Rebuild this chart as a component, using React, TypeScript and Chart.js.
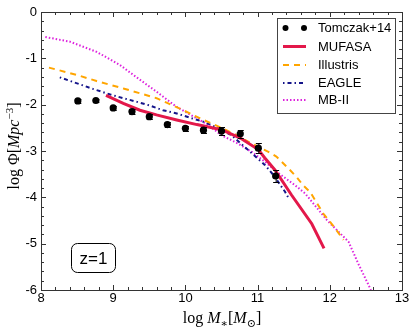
import React, { useEffect, useRef } from 'react';
import { Chart, registerables } from 'chart.js';
Chart.register(...registerables);

// ---- data ----
const tomczakX = [8.51, 8.76, 9.0, 9.26, 9.5, 9.75, 10.0, 10.25, 10.5, 10.76, 11.01, 11.25];
const tomczakY = [-1.92, -1.91, -2.07, -2.15, -2.26, -2.43, -2.51, -2.55, -2.57, -2.63, -2.94, -3.54];
const tomczakErr = [0.04, 0.04, 0.05, 0.05, 0.05, 0.06, 0.06, 0.07, 0.08, 0.08, 0.11, 0.13];

const mufasaX = [8.9, 9.14, 9.37, 9.6, 9.88, 10.16, 10.32, 10.5, 10.76, 11.01, 11.1, 11.24, 11.47, 11.75, 11.92];
const mufasaY = [-1.80, -1.97, -2.12, -2.22, -2.33, -2.43, -2.48, -2.54, -2.72, -2.97, -3.15, -3.41, -3.95, -4.57, -5.10];

const illustrisX = [8.11, 8.5, 8.77, 9.14, 9.6, 9.97, 10.25, 10.5, 10.7, 10.87, 11.15, 11.26, 11.43, 11.54, 11.63, 11.73, 11.91, 12.05, 12.19];
const illustrisY = [-1.20, -1.36, -1.49, -1.65, -1.86, -2.12, -2.33, -2.50, -2.65, -2.80, -3.02, -3.12, -3.38, -3.56, -3.74, -3.89, -4.35, -4.62, -4.92];

const eagleX = [8.26, 8.5, 8.72, 8.96, 9.14, 9.33, 9.51, 9.69, 9.88, 10.06, 10.25, 10.45, 10.64, 10.87, 11.1, 11.22, 11.38, 11.43];
const eagleY = [-1.41, -1.54, -1.66, -1.78, -1.86, -1.94, -2.02, -2.12, -2.19, -2.28, -2.37, -2.50, -2.66, -2.98, -3.30, -3.52, -3.88, -4.02];

const mb2X = [8.06, 8.4, 8.77, 9.09, 9.28, 9.6, 9.88, 10.16, 10.3, 10.5, 10.73, 10.92, 11.1, 11.29, 11.52, 11.66, 11.96, 12.26, 12.4, 12.57];
const mb2Y = [-0.54, -0.64, -0.86, -1.14, -1.36, -1.72, -2.05, -2.30, -2.42, -2.66, -2.84, -3.02, -3.23, -3.48, -3.74, -3.92, -4.49, -4.96, -5.45, -6.0];

const xTicks = [8, 9, 10, 11, 12, 13];
const yTicks = [0, -1, -2, -3, -4, -5, -6];
const legendLabels = ['Tomczak+14', 'MUFASA', 'Illustris', 'EAGLE', 'MB-II'];
const redshiftLabel = 'z=1';

const RED = '#e3184a';
const ORANGE = '#ffa500';
const NAVY = '#14148a';
const MAGENTA = '#dd22dd';

const SANS = '"Liberation Sans", Arial, sans-serif';
const SERIF = '"Liberation Serif", "DejaVu Serif", serif';

const pts = (xs: number[], ys: number[]) => xs.map((x, i) => ({ x, y: ys[i] }));

type Seg = { t: string; italic?: boolean; shift?: number; scale?: number };

function drawRich(ctx: CanvasRenderingContext2D, segs: Seg[], size: number, cx: number, baseY: number) {
  const fontOf = (s: Seg) => `${s.italic ? 'italic ' : ''}${Math.round(size * (s.scale || 1))}px ${SERIF}`;
  let w = 0;
  for (const s of segs) {
    ctx.font = fontOf(s);
    w += ctx.measureText(s.t).width;
  }
  let x = cx - w / 2;
  ctx.textAlign = 'left';
  ctx.textBaseline = 'alphabetic';
  for (const s of segs) {
    ctx.font = fontOf(s);
    ctx.fillText(s.t, x, baseY + (s.shift || 0) * size);
    x += ctx.measureText(s.t).width;
  }
}

const decorPlugin = {
  id: 'decor',
  afterDatasetsDraw(chart: any) {
    const ctx: CanvasRenderingContext2D = chart.ctx;
    const xs = chart.scales.x;
    const ys = chart.scales.y;
    const { left, right, top, bottom } = chart.chartArea;
    ctx.save();

    // error bars
    ctx.strokeStyle = '#000';
    ctx.lineWidth = 1;
    tomczakX.forEach((xv, i) => {
      const px = xs.getPixelForValue(xv);
      const y1 = ys.getPixelForValue(tomczakY[i] + tomczakErr[i]);
      const y2 = ys.getPixelForValue(tomczakY[i] - tomczakErr[i]);
      ctx.beginPath();
      ctx.moveTo(px + 0.5, y1);
      ctx.lineTo(px + 0.5, y2);
      ctx.moveTo(px - 2.5, Math.round(y1) + 0.5);
      ctx.lineTo(px + 3.5, Math.round(y1) + 0.5);
      ctx.moveTo(px - 2.5, Math.round(y2) + 0.5);
      ctx.lineTo(px + 3.5, Math.round(y2) + 0.5);
      ctx.stroke();
    });

    // frame
    ctx.strokeStyle = '#333';
    ctx.lineWidth = 1;
    ctx.strokeRect(Math.round(left) + 0.5, Math.round(top) + 0.5, Math.round(right - left), Math.round(bottom - top));

    // ticks (inward, all sides)
    ctx.beginPath();
    for (let v = 8; v <= 13.001; v += 0.2) {
      const major = Math.abs(v - Math.round(v)) < 1e-6;
      const len = major ? 5 : 3;
      const px = Math.round(xs.getPixelForValue(v)) + 0.5;
      ctx.moveTo(px, bottom);
      ctx.lineTo(px, bottom - len);
      ctx.moveTo(px, top);
      ctx.lineTo(px, top + len);
    }
    for (let v = -6; v <= 0.001; v += 0.2) {
      const major = Math.abs(v - Math.round(v)) < 1e-6;
      const len = major ? 5 : 3;
      const py = Math.round(ys.getPixelForValue(v)) + 0.5;
      ctx.moveTo(left, py);
      ctx.lineTo(left + len, py);
      ctx.moveTo(right, py);
      ctx.lineTo(right - len, py);
    }
    ctx.stroke();

    // legend
    const lx = 277.5, ly = 18.5, lw = 118, lh = 95;
    ctx.fillStyle = '#fff';
    ctx.fillRect(lx, ly, lw, lh);
    ctx.strokeStyle = '#444';
    ctx.lineWidth = 1;
    ctx.strokeRect(lx, ly, lw, lh);
    const rows = [28, 46.5, 65, 83, 100];
    const sx1 = 283, sx2 = 306;
    ctx.font = `13px ${SANS}`;
    ctx.fillStyle = '#000';
    ctx.textAlign = 'left';
    ctx.textBaseline = 'middle';
    legendLabels.forEach((lab, i) => {
      ctx.fillStyle = '#000';
      ctx.fillText(lab, 318, rows[i] + 0.5);
    });
    // samples
    ctx.fillStyle = '#000';
    [285.5, 304].forEach((cx) => {
      ctx.beginPath();
      ctx.arc(cx, rows[0], 3, 0, Math.PI * 2);
      ctx.fill();
    });
    const sample = (y: number, color: string, w: number, dash: number[]) => {
      ctx.beginPath();
      ctx.strokeStyle = color;
      ctx.lineWidth = w;
      ctx.setLineDash(dash);
      ctx.moveTo(sx1, y);
      ctx.lineTo(sx2, y);
      ctx.stroke();
      ctx.setLineDash([]);
    };
    sample(rows[1], RED, 3, []);
    sample(rows[2], ORANGE, 2, [6, 5]);
    sample(rows[3], NAVY, 2, [1.5, 3, 4, 3]);
    sample(rows[4], MAGENTA, 2, [1.5, 2]);

    // z=1 box
    ctx.strokeStyle = '#000';
    ctx.lineWidth = 1;
    ctx.beginPath();
    (ctx as any).roundRect(71.5, 243.5, 44, 29, 6);
    ctx.stroke();
    ctx.fillStyle = '#000';
    ctx.font = `17px ${SANS}`;
    ctx.textAlign = 'center';
    ctx.textBaseline = 'middle';
    ctx.fillText(redshiftLabel, 93.5, 259);

    // axis titles
    ctx.fillStyle = '#000';
    drawRich(ctx, [
      { t: 'log ' },
      { t: 'M', italic: true },
      { t: '∗', shift: 0.25, scale: 0.7 },
      { t: '[' },
      { t: 'M', italic: true },
      { t: '⊙', shift: 0.25, scale: 0.7 },
      { t: ']' },
    ], 16, 222, 323);

    ctx.save();
    ctx.translate(14, 146);
    ctx.rotate(-Math.PI / 2);
    drawRich(ctx, [
      { t: 'log Φ[' },
      { t: 'Mpc', italic: true },
      { t: '−3', shift: -0.4, scale: 0.7 },
      { t: ']' },
    ], 16, 0, 5);
    ctx.restore();

    ctx.restore();
  },
};

export default function App() {
  const ref = useRef<HTMLCanvasElement | null>(null);
  useEffect(() => {
    document.body.style.margin = '0';
    document.body.style.overflow = 'hidden';
    if (!ref.current) return;
    const tickFont = { family: SANS, size: 13 };
    const chart = new Chart(ref.current, {
      type: 'line',
      data: {
        datasets: [
          {
            label: legendLabels[0],
            data: pts(tomczakX, tomczakY),
            showLine: false,
            pointRadius: 3.6,
            pointBackgroundColor: '#000',
            pointBorderColor: '#000',
            pointBorderWidth: 0,
          },
          {
            label: legendLabels[1],
            data: pts(mufasaX, mufasaY),
            borderColor: RED,
            borderWidth: 3,
            pointRadius: 0,
            tension: 0,
          },
          {
            label: legendLabels[2],
            data: pts(illustrisX, illustrisY),
            borderColor: ORANGE,
            borderWidth: 2,
            borderDash: [6, 5],
            pointRadius: 0,
            tension: 0,
          },
          {
            label: legendLabels[3],
            data: pts(eagleX, eagleY),
            borderColor: NAVY,
            borderWidth: 2,
            borderDash: [1.5, 3, 4, 3],
            pointRadius: 0,
            tension: 0,
          },
          {
            label: legendLabels[4],
            data: pts(mb2X, mb2Y),
            borderColor: MAGENTA,
            borderWidth: 2,
            borderDash: [1.5, 2],
            pointRadius: 0,
            tension: 0,
          },
        ],
      } as any,
      options: {
        animation: false,
        responsive: false,
        devicePixelRatio: 1,
        layout: { padding: { top: 12, right: 13, left: 0, bottom: 0 } },
        plugins: { legend: { display: false }, tooltip: { enabled: false } },
        scales: {
          x: {
            type: 'linear',
            min: 8,
            max: 13,
            afterBuildTicks: (s: any) => { s.ticks = xTicks.map((v) => ({ value: v })); },
            afterFit: (s: any) => { s.height = 42; },
            ticks: { font: tickFont, color: '#000', padding: 1, maxRotation: 0, autoSkip: false, callback: (v: any) => String(v) },
            grid: { display: false, drawTicks: false },
            border: { display: false },
          },
          y: {
            type: 'linear',
            min: -6,
            max: 0,
            afterBuildTicks: (s: any) => { s.ticks = yTicks.map((v) => ({ value: v })); },
            afterFit: (s: any) => { s.width = 41; },
            ticks: { font: tickFont, color: '#000', padding: 4, autoSkip: false, callback: (v: any) => String(v) },
            grid: { display: false, drawTicks: false },
            border: { display: false },
          },
        },
      } as any,
      plugins: [decorPlugin],
    });
    return () => chart.destroy();
  }, []);
  return (
    <div style={{ width: 415, height: 332, position: 'relative', background: '#fff' }}>
      <canvas ref={ref} width={415} height={332} style={{ display: 'block' }} />
    </div>
  );
}
